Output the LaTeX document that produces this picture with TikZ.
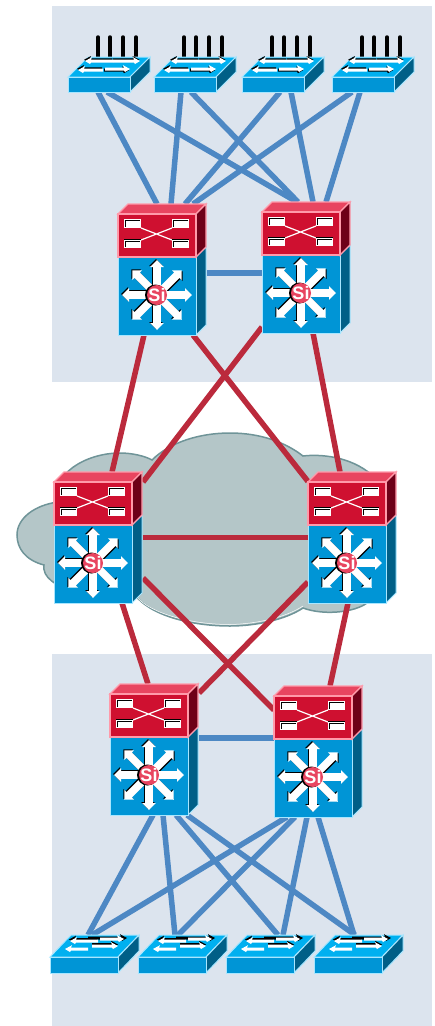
\documentclass[tikz,border=0pt]{standalone}
\usepackage{fontspec}
\setsansfont{Liberation Sans}

\definecolor{panelblue}{HTML}{DCE4EE}
\definecolor{cloudfill}{HTML}{B4C6C8}
\definecolor{cloudline}{HTML}{6F9498}
\definecolor{linkblue}{HTML}{4D88C4}
\definecolor{linkred}{HTML}{BB2A3C}
\definecolor{frontblue}{HTML}{0095D6}
\definecolor{topblue}{HTML}{00B0F0}
\definecolor{sideblue}{HTML}{005F87}
\definecolor{edgeblue}{HTML}{A8E6FF}
\definecolor{frontred}{HTML}{CF1030}
\definecolor{topred}{HTML}{E84560}
\definecolor{sidered}{HTML}{6E0018}
\definecolor{edgered}{HTML}{FF9AAA}

% arrow of the star on a layer 3 box
\newcommand{\stararrow}{(0,-3.8) -- (28,-3.8) -- (28,-6.8) -- (35,0) -- (28,6.8) -- (28,3.8) -- (0,3.8) -- cycle}
% arrow on the lid of a layer 2 box: tail, tip, lane, direction
\newcommand{\lanearrow}[4]{(#1,#3-1.5) -- (#2+#4*6,#3-1.5) -- (#2+#4*7,#3-3.8) -- (#2,#3) -- (#2+#4*5,#3+3) -- (#2+#4*6,#3+1.5) -- (#1,#3+1.5) -- cycle}
% body of a layer 2 box: width, height, depth x, depth y
\newcommand{\swbody}[4]{
  \filldraw[swtop] (0,-#2) -- (#3,-#2-#4) -- (#1+#3,-#2-#4) -- (#1,-#2) -- cycle;
  \filldraw[swside] (#1,0) -- (#1+#3,-#4) -- (#1+#3,-#2-#4) -- (#1,-#2) -- cycle;
  \filldraw[swfront] (0,0) rectangle (#1,-#2);
}

\begin{document}
\begin{tikzpicture}[x=1pt,y=-1pt]
  % Base settings
  \tikzset{
    panel/.style={fill=panelblue},
    bluelink/.style={draw=linkblue, line width=5.5pt},
    redlink/.style={draw=linkred, line width=5.5pt},
    lthreebox/.style={minimum width=89pt, minimum height=131pt, inner sep=0pt, outer sep=0pt},
    ltwotop/.style={minimum width=82pt, minimum height=35pt, inner sep=0pt, outer sep=0pt},
    ltwobot/.style={minimum width=89pt, minimum height=38pt, inner sep=0pt, outer sep=0pt},
    swfront/.style={fill=frontblue, draw=edgeblue, line width=1pt},
    swtop/.style={fill=topblue, draw=edgeblue, line width=1pt},
    swside/.style={fill=sideblue, draw=edgeblue, line width=1pt},
    rtfront/.style={fill=frontred, draw=edgered, line width=1.3pt},
    rttop/.style={fill=topred, draw=edgered, line width=1.3pt},
    rtside/.style={fill=sidered, draw=edgered, line width=1.3pt},
    lthree/.pic={
      \filldraw[swside] (78,0) -- (88,-10) -- (88,-88) -- (78,-78) -- cycle;
      \filldraw[swfront] (0,0) rectangle (78,-78);
      \filldraw[rttop] (0,-121) -- (10,-131) -- (88,-131) -- (78,-121) -- cycle;
      \filldraw[rtside] (78,-78) -- (88,-88) -- (88,-131) -- (78,-121) -- cycle;
      \filldraw[rtfront] (0,-78) rectangle (78,-121);
      % crossing and ports
      \draw[white, line width=1.2pt] (23,-107) -- (54,-95) (23,-95) -- (54,-107);
      \foreach \px in {6,54}{
        \begin{scope}[shift={(\px,-116)}]
          \fill[white] (0,0) rectangle (17,9);
          \draw[black, line width=0.6pt] (1.5,7.5) |- (16,1.2);
          \fill[black] (0,19.5) rectangle (17,21);
          \fill[white] (0,21) rectangle (17,29);
          \draw[black, line width=0.6pt] (1.5,28) |- (16,22.2);
        \end{scope}
      }
      % star
      \foreach \a in {90,135,180,225,270,315}{
        \fill[black, shift={(38,-41)}, rotate=\a] \stararrow;
      }
      \fill[black, shift={(40,-39)}, rotate=45] \stararrow;
      \foreach \a in {0,45,...,315}{
        \fill[white, shift={(39,-40)}, rotate=\a] \stararrow;
      }
      \fill[black] (37.5,-40) circle[radius=10.5];
      \fill[topred] (39,-40) circle[radius=10];
      \node[text=white, font=\sffamily\bfseries\fontsize{18}{18}\selectfont, inner sep=0pt] (si) at (39,-39.5) {Si};
    },
    ltwoant/.pic={
      \draw[black, line width=3.5pt, line cap=round] (30,-55) -- (30,-30) (42,-55) -- (42,-30)
        (55,-55) -- (55,-30) (68,-55) -- (68,-30);
      \swbody{62}{15}{20}{20}
      \fill[black, shift={(-1,-1.2)}] \lanearrow{45}{17}{-31}{1};
      \fill[black, shift={(-0.5,-1.2)}] \lanearrow{45}{72}{-31}{-1};
      \fill[black, shift={(-1,-1.2)}] \lanearrow{35}{10}{-22}{1};
      \fill[black, shift={(-1,1.2)}] \lanearrow{37}{62}{-23}{-1};
      \fill[white] \lanearrow{45}{17}{-31}{1};
      \fill[white] \lanearrow{45}{72}{-31}{-1};
      \fill[white] \lanearrow{35}{10}{-22}{1};
      \fill[white] \lanearrow{37}{62}{-23}{-1};
    },
    ltwoplain/.pic={
      \swbody{68}{16}{21}{22}
      \fill[black] \lanearrow{38}{77}{-35}{-1};
      \fill[black, shift={(-1,-1.5)}] \lanearrow{48}{20}{-32}{1};
      \fill[black, shift={(0,-1.5)}] \lanearrow{42}{68}{-27}{-1};
      \fill[white, shift={(0,1)}] \lanearrow{50}{74}{-35}{-1};
      \fill[white] \lanearrow{48}{20}{-32}{1};
      \fill[white] \lanearrow{38}{15}{-24}{1};
      \fill[white] \lanearrow{42}{68}{-27}{-1};
    }
  }

  \useasboundingbox (0,0) rectangle (435,1026);

  % --- Panels ---
  \fill[panel] (52,6) rectangle (432,382);
  \fill[panel] (52,654) rectangle (432,1026);

  % --- Cloud ---
  \filldraw[fill=cloudfill, draw=cloudline, line width=1.5pt]
    (44,565) .. controls (25,560) and (17,548) .. (17,535)
    .. controls (17,518) and (35,505) .. (58,502)
    .. controls (50,475) and (85,453) .. (120,453)
    .. controls (132,453) and (145,456) .. (152,460)
    .. controls (170,442) and (200,433) .. (230,433)
    .. controls (260,433) and (285,442) .. (303,456)
    .. controls (320,454) and (350,456) .. (372,475)
    .. controls (385,490) and (390,590) .. (367,603)
    .. controls (355,612) and (325,616) .. (303,608)
    .. controls (285,620) and (255,626) .. (230,626)
    .. controls (190,626) and (150,615) .. (135,595)
    .. controls (100,600) and (40,590) .. (44,565) -- cycle;
  \draw[white, line width=0.5pt] (303,606) .. controls (285,618) and (255,624) .. (230,624.5)
    .. controls (190,624.5) and (150,613) .. (137,597);

  % --- Devices ---
  \foreach \name/\x in {afour/373, athree/283, atwo/195, aone/109}{
    \node[ltwotop] (\name) at (\x,74.5) {};
  }
  \foreach \name/\x/\y in {cleft/162.5/269.5, cright/306.5/267.5, dleft/98.5/537.5,
      dright/352.5/537.5, bleft/154.5/749.5, bright/318.5/751.5}{
    \node[lthreebox] (\name) at (\x,\y) {};
  }
  \foreach \name/\x in {eone/94.5, etwo/182.5, ethree/270.5, efour/358.5}{
    \node[ltwobot] (\name) at (\x,954) {};
  }

  % --- Top links ---
  \foreach \from/\dx/\to/\ex in {aone/-11/cleft/-5.5, aone/-2/cright/-9.5, atwo/-14/cleft/8.5,
      atwo/-4/cright/-8.5, athree/-3/cleft/22.5, athree/8/cright/6.5,
      afour/-21/cleft/30.5, afour/-13/cright/19.5}{
    \draw[bluelink] ([xshift=\dx]\from.south) -- ([xshift=\ex]\to.north);
  }
  \draw[bluelink] ([yshift=-3.5]cleft.east) -- ([yshift=-5.5]cright.west);

  % --- Middle links ---
  \draw[redlink] ([xshift=-18.5]cleft.south) -- ([xshift=13.5]dleft.north);
  \draw[redlink] ([xshift=30.5]cleft.south) -- ([yshift=56]dright.west);
  \draw[redlink] ([yshift=-59.5]cright.west) -- ([yshift=55.5]dleft.east);
  \draw[redlink] ([xshift=6.5]cright.south) -- ([xshift=-12.5]dright.north);
  \draw[redlink] (dleft.east) -- (dright.west);
  \draw[redlink] ([xshift=23.5]dleft.south) -- ([xshift=-6.5]bleft.north);
  \draw[redlink] ([yshift=-40.5]dleft.east) -- ([yshift=41.5]bright.west);
  \draw[redlink] ([yshift=-44.5]dright.west) -- ([yshift=56.5]bleft.east);
  \draw[redlink] ([xshift=-4.5]dright.south) -- ([xshift=11.5]bright.north);

  % --- Bottom links ---
  \draw[bluelink] ([yshift=11.5]bleft.east) -- ([yshift=13.5]bright.west);
  \foreach \from/\dx/\to/\ex in {bleft/-1.5/eone/-6.5, bleft/8.5/etwo/-7.5, bleft/21.5/ethree/7.5,
      bleft/32.5/efour/-3.5, bright/-31.5/eone/-2.5, bright/-23.5/etwo/-4.5,
      bright/-11.5/ethree/12.5, bright/-0.5/efour/-4.5}{
    \draw[bluelink] ([xshift=\dx]\from.south) -- ([xshift=\ex]\to.north);
  }

  % --- Icons ---
  \foreach \name in {aone,atwo,athree,afour}{
    \pic at (\name.south west) {ltwoant};
  }
  \foreach \name in {cleft,cright,dleft,dright,bleft,bright}{
    \pic at (\name.south west) {lthree};
  }
  \foreach \name in {eone,etwo,ethree,efour}{
    \pic at (\name.south west) {ltwoplain};
  }
\end{tikzpicture}
\end{document}
